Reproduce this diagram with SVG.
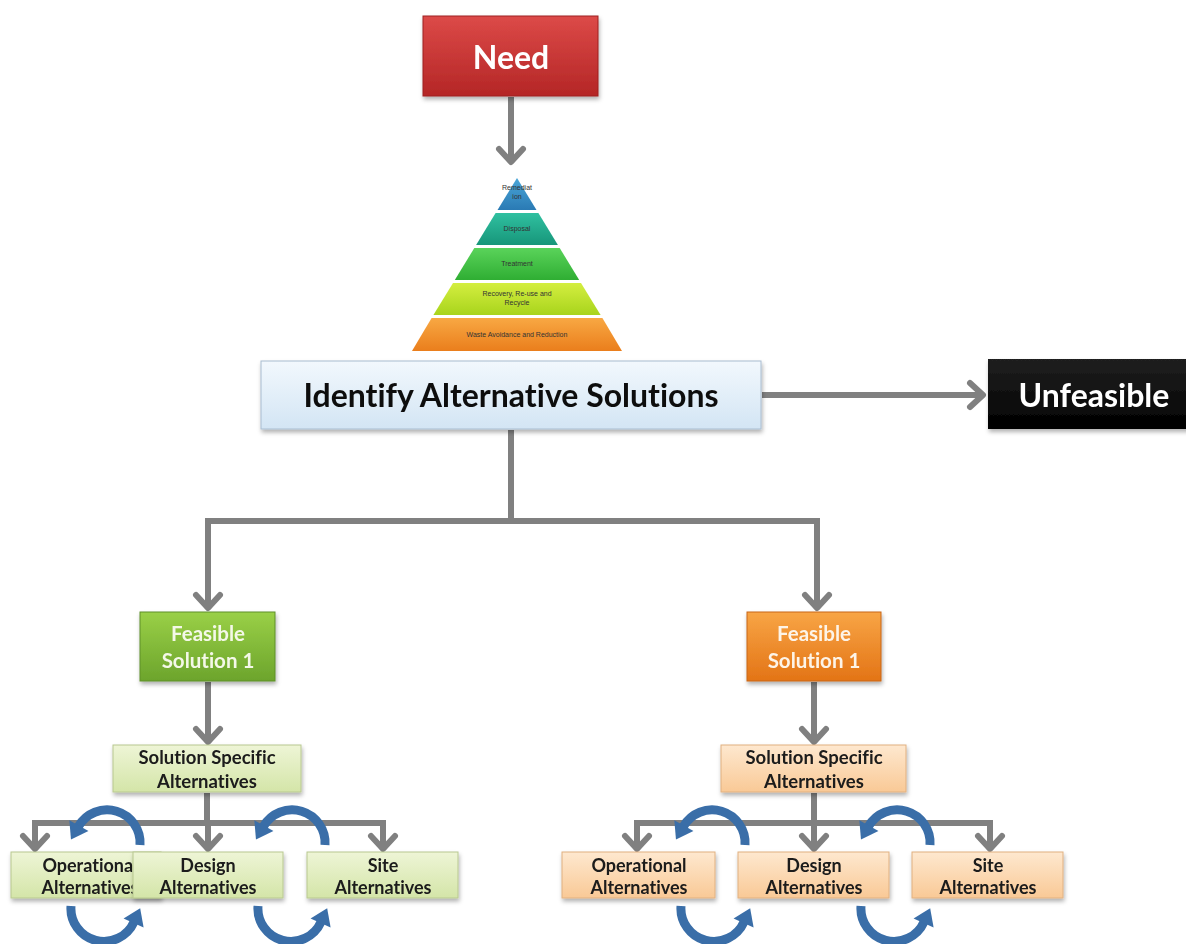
<svg xmlns="http://www.w3.org/2000/svg" width="1186" height="944" viewBox="0 0 1186 944">
<defs>
<style>
.t{font-family:Lato,"Liberation Sans",sans-serif;font-weight:bold;text-anchor:middle;font-variant-ligatures:none;font-feature-settings:"liga" 0}
.pt{font-family:"Liberation Sans",Arial,sans-serif;font-size:7px;fill:#333;text-anchor:middle}
.con{fill:none;stroke:#808080;stroke-width:6}
.blue{fill:none;stroke:#3a6ea8;stroke-width:9}
</style>
<filter id="sh" x="-10%" y="-10%" width="120%" height="130%"><feDropShadow dx="1" dy="3" stdDeviation="2" flood-color="#000" flood-opacity="0.3"/></filter>
<linearGradient id="gRed" x1="0" y1="0" x2="0" y2="1"><stop offset="0" stop-color="#dc4a48"/><stop offset="1" stop-color="#b42626"/></linearGradient>
<linearGradient id="gBlue" x1="0" y1="0" x2="0" y2="1"><stop offset="0" stop-color="#f2f8fd"/><stop offset="1" stop-color="#d3e5f4"/></linearGradient>
<linearGradient id="gBlk" x1="0" y1="0" x2="0" y2="1"><stop offset="0" stop-color="#202020"/><stop offset="1" stop-color="#000"/></linearGradient>
<linearGradient id="gGr" x1="0" y1="0" x2="0" y2="1"><stop offset="0" stop-color="#9ad047"/><stop offset="1" stop-color="#6ca42c"/></linearGradient>
<linearGradient id="gOr" x1="0" y1="0" x2="0" y2="1"><stop offset="0" stop-color="#f8a545"/><stop offset="1" stop-color="#e37416"/></linearGradient>
<linearGradient id="gLG" x1="0" y1="0" x2="0" y2="1"><stop offset="0" stop-color="#eef5d6"/><stop offset="1" stop-color="#d4e5a8"/></linearGradient>
<linearGradient id="gLO" x1="0" y1="0" x2="0" y2="1"><stop offset="0" stop-color="#fee8cf"/><stop offset="1" stop-color="#f9c996"/></linearGradient>
<linearGradient id="p1" x1="0" y1="0" x2="0" y2="1"><stop offset="0" stop-color="#4aa6d8"/><stop offset="1" stop-color="#2a7ab4"/></linearGradient>
<linearGradient id="p2" x1="0" y1="0" x2="0" y2="1"><stop offset="0" stop-color="#30c0a0"/><stop offset="1" stop-color="#17967a"/></linearGradient>
<linearGradient id="p3" x1="0" y1="0" x2="0" y2="1"><stop offset="0" stop-color="#5ad35a"/><stop offset="1" stop-color="#2fae33"/></linearGradient>
<linearGradient id="p4" x1="0" y1="0" x2="0" y2="1"><stop offset="0" stop-color="#d4ee40"/><stop offset="1" stop-color="#a8d41c"/></linearGradient>
<linearGradient id="p5" x1="0" y1="0" x2="0" y2="1"><stop offset="0" stop-color="#f8a843"/><stop offset="1" stop-color="#ea7e1c"/></linearGradient>
<marker id="chev" markerUnits="userSpaceOnUse" viewBox="-20 -16 26 32" markerWidth="26" markerHeight="32" refX="0" refY="0" orient="auto" overflow="visible"><path d="M-13,-12 L0,0 L-13,12" fill="none" stroke="#808080" stroke-width="6" stroke-linejoin="round" stroke-linecap="round"/></marker>
<marker id="bh" markerUnits="userSpaceOnUse" viewBox="0 -12 18 24" markerWidth="18" markerHeight="24" refX="1" refY="0" orient="auto" overflow="visible"><path d="M0,-11 L16,0 L0,11 z" fill="#3a6ea8"/></marker>
</defs>

<g id="connectors">
<path class="con" d="M511,97 V162" marker-end="url(#chev)"/>
<path class="con" d="M762,395 H983" marker-end="url(#chev)"/>
<path class="con" d="M511,430 V521 M208,521 H817"/>
<path class="con" d="M208,518 V608" marker-end="url(#chev)"/>
<path class="con" d="M817,518 V608" marker-end="url(#chev)"/>
<path class="con" d="M208,682 V742" marker-end="url(#chev)"/>
<path class="con" d="M814,682 V742" marker-end="url(#chev)"/>
<path class="con" d="M207,793 V823 M35,823 H383"/>
<path class="con" d="M35,820 V849" marker-end="url(#chev)"/>
<path class="con" d="M208,820 V849" marker-end="url(#chev)"/>
<path class="con" d="M383,820 V849" marker-end="url(#chev)"/>
<path class="con" d="M814,793 V823 M637,823 H990"/>
<path class="con" d="M637,820 V849" marker-end="url(#chev)"/>
<path class="con" d="M814,820 V849" marker-end="url(#chev)"/>
<path class="con" d="M990,820 V849" marker-end="url(#chev)"/>
</g>

<g id="need" filter="url(#sh)">
<rect x="423" y="16" width="175" height="80" fill="url(#gRed)" stroke="#9e2020" stroke-width="1"/>
<text class="t" x="511" y="69" font-size="32" fill="#fff">Need</text>
</g>

<g id="pyramid">
<polygon points="517,178 536.5,210 497.5,210" fill="url(#p1)"/>
<polygon points="495.6,213 538.4,213 557.9,245 476.1,245" fill="url(#p2)"/>
<polygon points="474.3,248 559.7,248 579.2,280 454.8,280" fill="url(#p3)"/>
<polygon points="453,283 581,283 600.6,315 433.4,315" fill="url(#p4)"/>
<polygon points="431.6,318 602.4,318 622,351 412,351" fill="url(#p5)"/>
<text class="pt" x="517" y="190">Remediat</text>
<text class="pt" x="517" y="199">ion</text>
<text class="pt" x="517" y="231">Disposal</text>
<text class="pt" x="517" y="266">Treatment</text>
<text class="pt" x="517" y="296">Recovery, Re-use and</text>
<text class="pt" x="517" y="305">Recycle</text>
<text class="pt" x="517" y="337">Waste Avoidance  and Reduction</text>
</g>

<g id="identify" filter="url(#sh)">
<rect x="261" y="361" width="500" height="68" fill="url(#gBlue)" stroke="#a8bcd0" stroke-width="1"/>
<text class="t" x="511" y="407" font-size="32" fill="#111">Identify Alternative Solutions</text>
</g>

<g id="unfeasible" filter="url(#sh)">
<rect x="988" y="359" width="210" height="70" fill="url(#gBlk)"/>
<text class="t" x="1094" y="407" font-size="32" fill="#fff">Unfeasible</text>
</g>

<g id="feasible-green" filter="url(#sh)">
<rect x="140" y="612" width="135" height="69" fill="url(#gGr)" stroke="#5f8f28" stroke-width="1"/>
<text class="t" x="208" y="641" font-size="20.5" fill="#f4f8e8">Feasible</text>
<text class="t" x="208" y="668" font-size="20.5" fill="#f4f8e8">Solution 1</text>
</g>

<g id="feasible-orange" filter="url(#sh)">
<rect x="747" y="612" width="134" height="69" fill="url(#gOr)" stroke="#c8661a" stroke-width="1"/>
<text class="t" x="814" y="641" font-size="20.5" fill="#fdf4e8">Feasible</text>
<text class="t" x="814" y="668" font-size="20.5" fill="#fdf4e8">Solution 1</text>
</g>

<g id="ssa-green" filter="url(#sh)">
<rect x="113" y="745" width="188" height="47" fill="url(#gLG)" stroke="#b8c890" stroke-width="1"/>
<text class="t" x="207" y="764" font-size="18.5" fill="#1a1a1a">Solution Specific</text>
<text class="t" x="207" y="788" font-size="18.5" fill="#1a1a1a">Alternatives</text>
</g>

<g id="ssa-orange" filter="url(#sh)">
<rect x="721" y="745" width="185" height="47" fill="url(#gLO)" stroke="#e0b080" stroke-width="1"/>
<text class="t" x="814" y="764" font-size="18.5" fill="#1a1a1a">Solution Specific</text>
<text class="t" x="814" y="788" font-size="18.5" fill="#1a1a1a">Alternatives</text>
</g>

<g id="op-green" filter="url(#sh)">
<rect x="11" y="852" width="150" height="46" fill="url(#gLG)" stroke="#b8c890" stroke-width="1"/>
<text class="t" x="90" y="872" font-size="18" fill="#1a1a1a">Operational</text>
<text class="t" x="90" y="894" font-size="18" fill="#1a1a1a">Alternatives</text>
</g>
<g id="design-green" filter="url(#sh)">
<rect x="133" y="852" width="150" height="46" fill="url(#gLG)" stroke="#b8c890" stroke-width="1"/>
<text class="t" x="208" y="872" font-size="18" fill="#1a1a1a">Design</text>
<text class="t" x="208" y="894" font-size="18" fill="#1a1a1a">Alternatives</text>
</g>
<g id="site-green" filter="url(#sh)">
<rect x="307" y="852" width="151" height="46" fill="url(#gLG)" stroke="#b8c890" stroke-width="1"/>
<text class="t" x="383" y="872" font-size="18" fill="#1a1a1a">Site</text>
<text class="t" x="383" y="894" font-size="18" fill="#1a1a1a">Alternatives</text>
</g>

<g id="op-orange" filter="url(#sh)">
<rect x="562" y="852" width="153" height="46" fill="url(#gLO)" stroke="#e0b080" stroke-width="1"/>
<text class="t" x="639" y="872" font-size="18" fill="#1a1a1a">Operational</text>
<text class="t" x="639" y="894" font-size="18" fill="#1a1a1a">Alternatives</text>
</g>
<g id="design-orange" filter="url(#sh)">
<rect x="738" y="852" width="151" height="46" fill="url(#gLO)" stroke="#e0b080" stroke-width="1"/>
<text class="t" x="814" y="872" font-size="18" fill="#1a1a1a">Design</text>
<text class="t" x="814" y="894" font-size="18" fill="#1a1a1a">Alternatives</text>
</g>
<g id="site-orange" filter="url(#sh)">
<rect x="912" y="852" width="151" height="46" fill="url(#gLO)" stroke="#e0b080" stroke-width="1"/>
<text class="t" x="988" y="872" font-size="18" fill="#1a1a1a">Site</text>
<text class="t" x="988" y="894" font-size="18" fill="#1a1a1a">Alternatives</text>
</g>

<g id="cycle-arrows">
<path class="blue" d="M140,845 A33,33 0 0 0 78.4,826.5" marker-end="url(#bh)"/>
<path class="blue" d="M325,845 A33,33 0 0 0 263.4,826.5" marker-end="url(#bh)"/>
<path class="blue" d="M745,845 A33,33 0 0 0 683.4,826.5" marker-end="url(#bh)"/>
<path class="blue" d="M930,845 A33,33 0 0 0 868.4,826.5" marker-end="url(#bh)"/>
<path class="blue" d="M71,906 A33,33 0 0 0 134,922" marker-end="url(#bh)"/>
<path class="blue" d="M258,906 A33,33 0 0 0 321,922" marker-end="url(#bh)"/>
<path class="blue" d="M681,906 A33,33 0 0 0 744,922" marker-end="url(#bh)"/>
<path class="blue" d="M861,906 A33,33 0 0 0 924,922" marker-end="url(#bh)"/>
</g>
</svg>
